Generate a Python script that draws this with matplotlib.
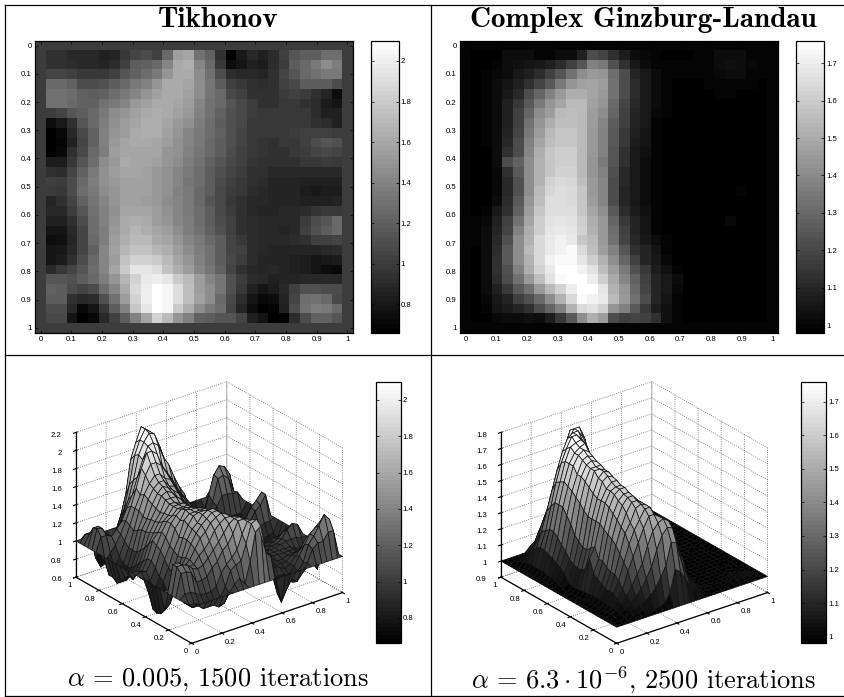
import numpy as np
import matplotlib
matplotlib.use('Agg')
import matplotlib.pyplot as plt
from matplotlib.lines import Line2D
from mpl_toolkits.mplot3d import proj3d

plt.rcParams['font.family'] = 'Liberation Sans'
plt.rcParams['mathtext.fontset'] = 'cm'

W, H = 845, 697

# values, inner 28x28 cells (the outer ring of the grid sits at 1)
tik_inner = [
[.95,.95,.90,.90,.90,.86,.88,.98,1.05,1.10,1.02,1.25,1.55,1.60,1.30,1.22,.95,.68,.80,.90,.85,.92,1.02,1.15,1.20,1.20,1.28,1.28],
[.95,.95,.92,.90,.90,.88,.92,1.02,1.18,1.22,1.25,1.42,1.62,1.65,1.42,1.25,.98,.75,.78,.85,.82,.92,1.0,1.18,1.25,1.35,1.45,1.38],
[1.05,1.05,1.02,.98,.98,.98,1.02,1.15,1.22,1.28,1.35,1.50,1.62,1.62,1.45,1.30,1.10,.92,.90,.90,.88,.95,1.05,1.15,1.25,1.3,1.35,1.35],
[1.25,1.25,1.22,1.10,1.10,1.12,1.2,1.25,1.35,1.4,1.5,1.62,1.62,1.6,1.45,1.32,1.2,1.02,.98,.95,.92,.95,1.02,1.08,1.18,1.18,1.18,1.1],
[1.3,1.3,1.28,1.22,1.2,1.22,1.28,1.35,1.42,1.5,1.58,1.62,1.62,1.58,1.45,1.32,1.25,1.08,1.02,.95,.95,.95,1.0,1.02,1.0,.95,.88,.75],
[1.3,1.3,1.25,1.22,1.22,1.3,1.35,1.42,1.52,1.58,1.62,1.62,1.6,1.55,1.42,1.3,1.25,1.15,1.08,1.0,.95,.95,.98,.98,.95,.92,.82,.78],
[1.0,1.05,1.15,1.2,1.25,1.35,1.45,1.5,1.58,1.62,1.65,1.62,1.58,1.52,1.4,1.3,1.22,1.12,1.08,1.0,.98,.98,.98,.98,.98,.92,.85,.85],
[.75,.8,.95,1.15,1.25,1.38,1.48,1.55,1.6,1.65,1.65,1.6,1.52,1.48,1.38,1.28,1.2,1.12,1.08,.98,.98,.98,.98,.98,.98,.95,.92,.85],
[.68,.72,.9,1.08,1.22,1.4,1.5,1.55,1.62,1.65,1.65,1.58,1.5,1.42,1.35,1.28,1.22,1.12,1.05,.98,.98,.98,.98,1.0,1.02,1.02,1.02,1.0],
[.66,.7,.85,1.05,1.22,1.4,1.52,1.6,1.62,1.62,1.6,1.55,1.48,1.42,1.35,1.25,1.2,1.12,1.05,.98,.96,.95,.98,.98,1.02,1.1,1.15,1.12],
[.68,.72,.95,1.08,1.25,1.38,1.55,1.6,1.6,1.6,1.6,1.5,1.48,1.4,1.32,1.25,1.18,1.1,1.02,.98,.96,.95,.95,.98,1.0,1.05,1.08,1.05],
[.82,.82,.98,1.15,1.28,1.45,1.52,1.62,1.6,1.6,1.58,1.5,1.45,1.38,1.3,1.22,1.15,1.08,1.02,.96,.95,.95,.95,.95,.98,.98,1.0,.98],
[.95,.92,1.05,1.22,1.35,1.48,1.55,1.6,1.6,1.58,1.52,1.48,1.42,1.35,1.28,1.2,1.12,1.05,1.0,.95,.93,.9,.9,.9,.9,.9,.9,.9],
[1.02,1.0,1.1,1.25,1.38,1.48,1.52,1.58,1.58,1.58,1.52,1.48,1.42,1.32,1.28,1.18,1.1,1.02,.98,.93,.92,.88,.88,.88,.86,.86,.86,.86],
[1.0,.98,1.1,1.28,1.35,1.45,1.5,1.58,1.58,1.58,1.52,1.48,1.4,1.35,1.25,1.18,1.08,1.0,.98,.92,.9,.88,.88,.88,.84,.8,.82,.84],
[.88,.95,1.05,1.22,1.32,1.42,1.5,1.58,1.58,1.55,1.52,1.45,1.42,1.35,1.25,1.15,1.08,.98,.95,.9,.9,.88,.88,.88,.86,.85,.86,.88],
[.9,.9,1.0,1.15,1.3,1.4,1.48,1.6,1.6,1.6,1.55,1.48,1.42,1.35,1.28,1.18,1.08,1.0,.95,.9,.88,.88,.9,.9,.92,.96,.98,.98],
[.85,.85,.95,1.1,1.28,1.4,1.5,1.62,1.65,1.62,1.55,1.5,1.42,1.38,1.28,1.18,1.1,1.02,.95,.92,.9,.9,.9,.9,1.0,1.1,1.15,1.25],
[.78,.78,.9,1.05,1.28,1.38,1.52,1.62,1.68,1.65,1.6,1.55,1.45,1.38,1.3,1.22,1.12,1.02,.95,.92,.9,.9,.88,.9,1.02,1.12,1.18,1.25],
[.74,.76,.88,1.05,1.25,1.38,1.55,1.65,1.7,1.7,1.62,1.6,1.5,1.42,1.35,1.25,1.18,1.05,.98,.92,.9,.9,.9,.92,.95,1.02,1.02,1.05],
[.78,.8,.9,1.05,1.22,1.42,1.58,1.68,1.75,1.75,1.68,1.65,1.55,1.45,1.38,1.3,1.2,1.05,1.02,.92,.9,.88,.88,.88,.88,.88,.9,.92],
[.78,.82,.95,1.1,1.25,1.42,1.55,1.75,1.85,1.85,1.8,1.7,1.6,1.5,1.4,1.3,1.2,1.08,1.0,.92,.88,.88,.88,.85,.82,.78,.8,.82],
[.9,.98,1.05,1.15,1.28,1.42,1.6,1.8,1.95,1.95,1.9,1.75,1.65,1.55,1.42,1.32,1.22,1.05,.95,.9,.88,.9,.88,.85,.82,.78,.75,.72],
[1.15,1.15,1.12,1.18,1.25,1.38,1.5,1.68,1.85,1.98,2.0,1.95,1.8,1.7,1.55,1.42,1.32,1.12,1.0,.92,.9,.85,.88,.88,.9,.9,.9,.9],
[1.22,1.2,1.1,1.05,1.1,1.28,1.42,1.62,1.88,2.0,2.08,2.05,1.9,1.72,1.55,1.45,1.32,1.12,.98,.85,.78,.82,.9,1.02,1.12,1.12,1.1,1.1],
[1.2,1.2,.95,.9,.92,1.12,1.3,1.55,1.85,2.0,2.1,2.05,1.92,1.72,1.58,1.45,1.25,1.08,.92,.78,.72,.75,.88,1.05,1.28,1.3,1.25,1.08],
[1.1,1.1,.9,.72,.78,.98,1.18,1.4,1.78,1.95,2.1,2.05,1.8,1.65,1.45,1.35,1.28,1.05,.88,.74,.68,.7,.85,1.1,1.3,1.38,1.35,1.25],
[1.08,1.08,.78,.66,.72,.9,1.02,1.18,1.4,1.6,1.85,1.7,1.5,1.4,1.22,1.18,1.15,1.15,1.05,.85,.78,.68,.7,.92,1.1,1.22,1.22,1.15],
]

# this one read as gray level of the cell, 0 black .. 1 white
gl_gray = [
[.01,.01,.01,.05,.06,.06,.02,.03,.05,.06,.13,.3,.27,.2,.12,.06,.04,.02,.01,.01,.01,.02,.03,.05,.06,.06,.03,.02],
[.01,.01,.02,.06,.07,.08,.1,.13,.18,.25,.33,.5,.48,.32,.2,.1,.06,.03,.02,.02,.02,.02,.03,.05,.07,.06,.04,.02],
[.01,.02,.04,.06,.1,.13,.18,.25,.33,.45,.55,.6,.58,.43,.3,.15,.1,.05,.02,.02,.02,.02,.02,.04,.06,.05,.03,.02],
[.01,.03,.05,.08,.13,.2,.28,.35,.48,.58,.63,.65,.62,.45,.3,.18,.1,.05,.02,.01,.01,.01,.02,.02,.03,.02,.02,.01],
[.01,.03,.05,.1,.17,.3,.4,.5,.6,.68,.68,.65,.6,.45,.3,.18,.1,.05,.02,.01,.01,.01,.01,.02,.02,.01,.01,.01],
[.01,.02,.05,.13,.22,.35,.48,.58,.65,.72,.72,.63,.58,.42,.27,.17,.1,.05,.02,.01,.01,.01,.01,.01,.01,.01,0,0],
[.01,.02,.05,.13,.25,.4,.55,.62,.72,.74,.72,.62,.55,.4,.25,.15,.1,.04,.02,.01,.01,.01,.01,.01,.01,.01,.01,.01],
[.01,.02,.06,.13,.25,.45,.58,.68,.75,.75,.72,.62,.52,.37,.25,.15,.1,.03,.01,.01,.01,.01,.01,.01,.01,0,0,.01],
[.01,.02,.06,.15,.27,.48,.62,.72,.77,.77,.72,.6,.5,.35,.22,.13,.08,.03,.01,.01,.01,.01,.01,.01,.01,.01,.01,.01],
[.01,.02,.06,.17,.3,.5,.65,.74,.78,.78,.72,.6,.5,.35,.22,.12,.08,.03,.01,.01,.01,.01,.01,.01,.01,.01,.01,.01],
[.01,.01,.05,.2,.3,.52,.68,.77,.8,.8,.72,.6,.5,.33,.2,.1,.07,.02,.01,.01,.01,.01,.01,.01,.01,.01,.01,.01],
[.01,.01,.05,.3,.38,.55,.7,.78,.8,.8,.72,.58,.48,.33,.2,.1,.05,.02,.01,.01,.01,.01,.01,.01,.01,.01,.01,.01],
[0,.01,.04,.2,.35,.55,.7,.78,.82,.82,.72,.58,.5,.32,.17,.1,.05,.02,.01,.01,.01,.01,.01,.01,.01,.01,.01,0],
[0,.01,.04,.17,.32,.55,.7,.82,.85,.83,.75,.6,.52,.3,.16,.1,.05,.02,.01,.01,.01,.01,.01,.01,.01,.01,.01,0],
[0,0,.04,.17,.32,.55,.72,.83,.87,.85,.77,.6,.52,.3,.15,.1,.05,.02,.01,.01,.01,.01,.01,.01,.01,.03,.01,.01],
[0,.01,.05,.18,.35,.58,.75,.87,.87,.85,.77,.62,.52,.3,.15,.1,.05,.02,.01,.01,.01,.01,.01,.01,.01,.01,.01,.01],
[.01,.03,.1,.2,.38,.62,.78,.87,.87,.87,.78,.65,.55,.35,.18,.12,.07,.03,.01,.01,.01,.01,.01,.01,.01,.01,.01,.01],
[.02,.04,.13,.25,.45,.65,.8,.88,.9,.88,.8,.68,.6,.4,.22,.15,.08,.03,.01,.01,.01,.01,.01,.01,.04,.01,.01,.01],
[.02,.05,.15,.28,.5,.68,.8,.9,.92,.9,.82,.7,.6,.43,.25,.15,.08,.03,.01,.01,.01,.01,.01,.01,.01,.01,.01,.01],
[.02,.05,.17,.32,.55,.7,.85,.92,.95,.92,.78,.72,.6,.45,.28,.17,.1,.05,.02,.01,.01,.01,.01,.01,.01,.01,.01,.01],
[.01,.06,.18,.35,.55,.72,.85,.92,.95,.97,.85,.75,.62,.5,.33,.2,.15,.08,.03,.01,.01,.01,.01,.01,.01,.01,.01,.01],
[.01,.06,.2,.35,.55,.7,.85,.95,.97,.98,.9,.8,.7,.55,.4,.25,.15,.1,.04,.01,.01,.01,.01,.01,.01,.01,.01,.01],
[.01,.06,.2,.32,.5,.68,.82,.92,1,1,.95,.88,.75,.62,.47,.32,.22,.12,.07,.03,.01,.01,.01,0,0,0,0,0],
[.01,.06,.18,.3,.45,.6,.75,.88,.97,1,1,.93,.8,.67,.52,.38,.25,.15,.1,.05,.01,.01,.01,0,0,0,0,0],
[.01,.05,.13,.22,.35,.45,.6,.72,.82,.93,1,1,.9,.7,.58,.42,.27,.15,.1,.04,.01,.01,.01,.01,.01,.01,.01,.01],
[.01,.04,.1,.15,.25,.32,.42,.55,.7,.85,.97,.95,.92,.72,.6,.45,.3,.15,.08,.03,.01,.01,.01,.01,.01,.01,.01,.01],
[.01,.03,.08,.12,.15,.2,.3,.4,.5,.7,.85,.88,.82,.58,.5,.35,.22,.12,.07,.02,.01,.01,.01,.01,.01,.01,.01,.01],
[.01,.01,.04,.05,.06,.07,.06,.12,.22,.35,.55,.68,.62,.3,.25,.28,.25,.2,.07,.03,.01,.01,.01,.01,.01,.01,.01,.01],
]

titles = ['Tikhonov', 'Complex Ginzburg-Landau']
captions = [r'$\alpha\,=\,0.005$, 1500 iterations', r'$\alpha\,=\,6.3 \cdot 10^{-6}$, 2500 iterations']
clims = [(0.66, 2.1), (0.98, 1.76)]
cbar_ticks = [[.8, 1, 1.2, 1.4, 1.6, 1.8, 2], [1, 1.1, 1.2, 1.3, 1.4, 1.5, 1.6, 1.7]]
img_ticks = [0, .1, .2, .3, .4, .5, .6, .7, .8, .9, 1]
xy3d_ticks = [0, .2, .4, .6, .8, 1]
z_ticks = [[.6, .8, 1, 1.2, 1.4, 1.6, 1.8, 2, 2.2], [.9, 1, 1.1, 1.2, 1.3, 1.4, 1.5, 1.6, 1.7, 1.8]]
z_lims = [(.6, 2.2), (.9, 1.8)]

gl_inner = clims[1][0] + np.array(gl_gray) * (clims[1][1] - clims[1][0])
data = [np.pad(np.array(tik_inner), 1, constant_values=1.0),
        np.pad(gl_inner, 1, constant_values=1.0)]
n = data[0].shape[0]
gx = np.arange(n) / (n - 1)
half = 0.5 / (n - 1)
cmap = plt.get_cmap('gray', 64)


def box(x0, y0, x1, y1, **kw):
    # pixels from the top left corner to figure coords
    return fig.add_axes([x0 / W, 1 - y1 / H, (x1 - x0) / W, (y1 - y0) / H], **kw)


def lab(v):
    return '%g' % v


def add_cbar(im, rect, ticks):
    cax = box(*rect)
    cb = fig.colorbar(im, cax=cax)
    cb.set_ticks(ticks)
    cb.set_ticklabels([lab(t) for t in ticks])
    cax.tick_params(which='both', direction='in', length=2, width=0.5, left=True, right=True,
                    labelsize=5.6, pad=1.5)
    cb.outline.set_linewidth(0.9)


def fit_3d(ax, front, span):
    # move and scale the 3d axes so the base of the box lands on the wanted pixels
    for i in range(3):
        fig.canvas.draw()
        xy = []
        for a, b in [(0, 0), (1, 0), (0, 1)]:
            px, py, _ = proj3d.proj_transform(a, b, ax.get_zlim()[0], ax.M)
            xy.append(ax.transData.transform((px, py)))
        cur = xy[1][0] - xy[2][0]
        pos = ax.get_position()
        k = span / cur
        ax.set_position([pos.x0, pos.y0, pos.width * k, pos.height * k])
        fig.canvas.draw()
        px, py, _ = proj3d.proj_transform(0, 0, ax.get_zlim()[0], ax.M)
        fx, fy = ax.transData.transform((px, py))
        pos = ax.get_position()
        ax.set_position([pos.x0 + (front[0] - fx) / W, pos.y0 + ((H - front[1]) - fy) / H, pos.width, pos.height])


fig = plt.figure(figsize=(W / 100, H / 100), dpi=100)

img_x = [(35.3, 352.7), (460.3, 777.7)]
cb_x = [(370.7, 398.7), (796.3, 824.3)]
cb3_x = [(375.7, 400.7), (800.7, 826)]
fronts = [(191.7, 643.3), (616.7, 643.3)]
title_x = [218, 643]

for i in range(2):
    # image row
    ax = box(img_x[i][0], 40.7, img_x[i][1], 332.7)
    im = ax.imshow(data[i], cmap=cmap, vmin=clims[i][0], vmax=clims[i][1], interpolation='nearest',
                   extent=(-half, 1 + half, 1 + half, -half), aspect='auto')
    ax.set_xticks(img_ticks)
    ax.set_yticks(img_ticks)
    ax.set_xticklabels([lab(t) for t in img_ticks])
    ax.set_yticklabels([lab(t) for t in img_ticks])
    ax.tick_params(direction='in', length=2.5, width=0.5, top=True, right=True, labelsize=5.6, pad=2.5)
    for s in ax.spines.values():
        s.set_linewidth(0.9)
    add_cbar(im, (cb_x[i][0], 40.7, cb_x[i][1], 332.7), cbar_ticks[i])
    fig.text(title_x[i] / W, 1 - 20 / H, titles[i], family='cmb10', fontsize=21, ha='center', va='center')

    # surface row
    ax3 = fig.add_axes([0.1 + i * .5, .1, 0.35, 0.35 * W / H], projection='3d')
    ax3.set_proj_type('ortho')
    ax3.view_init(elev=26, azim=-127.5)
    ax3.set_box_aspect((1, 1, .847), zoom=1)
    ax3.patch.set_alpha(0)
    X, Y = np.meshgrid(gx, gx)
    ax3.plot_surface(X, Y, data[i], cmap=cmap, vmin=clims[i][0], vmax=clims[i][1], rstride=1, cstride=1,
                     edgecolor='#111111', linewidth=0.5, shade=False, antialiased=True)
    ax3.set_xlim(0, 1)
    ax3.set_ylim(0, 1)
    ax3.set_zlim(*z_lims[i])
    ax3.set_xticks(xy3d_ticks)
    ax3.set_yticks(xy3d_ticks)
    ax3.set_zticks(z_ticks[i])
    ax3.set_xticklabels([lab(t) for t in xy3d_ticks], ha='left')
    ax3.set_yticklabels([lab(t) for t in xy3d_ticks], ha='right')
    ax3.set_zticklabels([lab(t) for t in z_ticks[i]], ha='right')
    ax3.tick_params(labelsize=5.6, pad=-5, length=2, width=0.5)
    ax3.tick_params(axis='z', pad=-2)
    for a in (ax3.xaxis, ax3.yaxis, ax3.zaxis):
        a.set_pane_color((1, 1, 1, 1))
        a.pane.set_edgecolor((1, 1, 1, 0))
        a.pane.set_linewidth(0)
        a.line.set_linewidth(0.9)
        a._axinfo['grid'].update(color='#666666', linestyle=':', linewidth=0.6)
    fit_3d(ax3, fronts[i], 266.6)
    sm = plt.cm.ScalarMappable(norm=im.norm, cmap=cmap)
    add_cbar(sm, (cb3_x[i][0], 381.7, cb3_x[i][1], 643.3), cbar_ticks[i])
    fig.text(title_x[i] / W, 1 - 680 / H, captions[i], family='cmr10', fontsize=19, ha='center', va='center')

# table rules
for x0, y0, x1, y1 in [(5.5, 5, 845, 5), (5.5, 354.5, 845, 354.5), (5.5, 696, 845, 696),
                       (5.5, 5, 5.5, 696), (431, 5, 431, 696)]:
    fig.add_artist(Line2D([x0 / W, x1 / W], [1 - y0 / H, 1 - y1 / H], color='k', lw=0.9))

fig.savefig('out.png', dpi=100)
